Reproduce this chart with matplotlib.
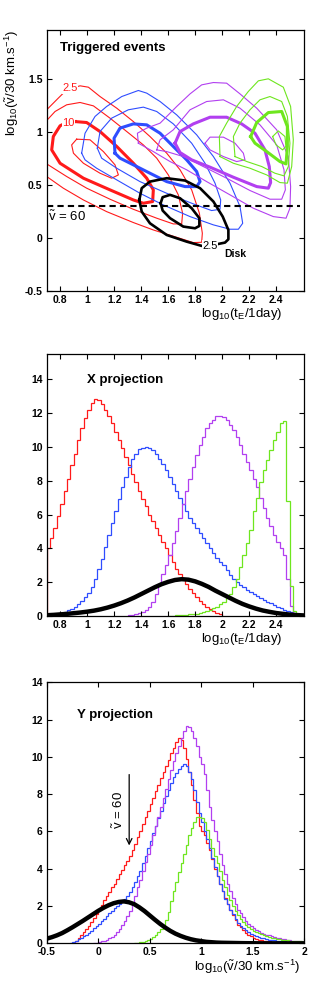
import numpy as np
import matplotlib
matplotlib.use("Agg")
import matplotlib.pyplot as plt

plt.rcParams['font.family'] = ['Liberation Sans', 'DejaVu Sans']
plt.rcParams['mathtext.fontset'] = 'custom'
plt.rcParams['mathtext.rm'] = 'Liberation Sans'
plt.rcParams['mathtext.it'] = 'Liberation Sans:italic'
plt.rcParams['mathtext.bf'] = 'Liberation Sans:bold'

RED = '#ff1a1a'
BLUE = '#2f4dff'
PURPLE = '#b23ff0'
GREEN = '#6ee61e'

red_outer = [(0.700, 1.208), (0.786, 1.318), (0.848, 1.396), (0.947, 1.434), (1.009, 1.421),
             (1.095, 1.333), (1.219, 1.223), (1.342, 1.097), (1.465, 0.956), (1.589, 0.799),
             (1.688, 0.642), (1.774, 0.453), (1.831, 0.233), (1.853, 0.044), (1.848, -0.041),
             (1.786, -0.044), (1.663, 0.006), (1.490, 0.075), (1.342, 0.145), (1.144, 0.248),
             (0.972, 0.358), (0.823, 0.469), (0.700, 0.579)]
red_mid = [(0.700, 1.107), (0.762, 1.192), (0.848, 1.255), (0.947, 1.277), (1.046, 1.245),
           (1.169, 1.129), (1.293, 1.003), (1.416, 0.877), (1.515, 0.752), (1.601, 0.594),
           (1.675, 0.406), (1.707, 0.233), (1.700, 0.132), (1.638, 0.132), (1.515, 0.186),
           (1.342, 0.270), (1.169, 0.365), (0.996, 0.469), (0.848, 0.579), (0.700, 0.698)]
red_thick = [(0.910, 1.097), (0.996, 1.088), (1.095, 1.003), (1.219, 0.862), (1.342, 0.704),
             (1.441, 0.563), (1.490, 0.453), (1.485, 0.343), (1.416, 0.327), (1.342, 0.358),
             (1.169, 0.453), (0.972, 0.563), (0.799, 0.704), (0.737, 0.830), (0.749, 0.956),
             (0.799, 1.057), (0.850, 1.090)]
red_inner = [(0.922, 0.931), (1.021, 0.925), (1.120, 0.814), (1.206, 0.689), (1.231, 0.594),
             (1.181, 0.563), (1.095, 0.610), (0.972, 0.704), (0.898, 0.799), (0.885, 0.877)]

blue_outer = [(0.959, 0.799), (0.984, 0.987), (1.058, 1.145), (1.144, 1.239), (1.256, 1.333),
              (1.379, 1.390), (1.441, 1.365), (1.540, 1.286), (1.663, 1.160), (1.811, 0.972),
              (1.935, 0.767), (2.058, 0.516), (2.132, 0.296), (2.152, 0.138), (2.120, 0.082),
              (2.058, 0.082), (1.935, 0.123), (1.762, 0.201), (1.564, 0.311), (1.391, 0.421),
              (1.219, 0.547), (1.070, 0.657), (0.984, 0.736)]
blue_mid = [(1.075, 0.846), (1.095, 1.003), (1.181, 1.129), (1.305, 1.208), (1.416, 1.233),
            (1.515, 1.192), (1.638, 1.075), (1.774, 0.893), (1.873, 0.704), (1.947, 0.516),
            (1.989, 0.358), (1.984, 0.270), (1.922, 0.258), (1.786, 0.321), (1.589, 0.421),
            (1.391, 0.531), (1.219, 0.657), (1.107, 0.752)]
blue_thick = [(1.206, 0.799), (1.199, 0.940), (1.243, 1.035), (1.342, 1.075), (1.441, 1.066),
              (1.540, 0.987), (1.638, 0.862), (1.737, 0.736), (1.811, 0.626), (1.836, 0.531),
              (1.811, 0.484), (1.725, 0.484), (1.589, 0.531), (1.465, 0.610), (1.342, 0.689),
              (1.243, 0.752)]

purple_outer = [(1.379, 0.893), (1.372, 0.987), (1.441, 1.035), (1.540, 1.082), (1.663, 1.239),
                (1.762, 1.358), (1.848, 1.443), (1.935, 1.465), (2.033, 1.459), (2.132, 1.358),
                (2.256, 1.223), (2.404, 1.019), (2.490, 0.767), (2.507, 0.484), (2.502, 0.280),
                (2.473, 0.186), (2.379, 0.201), (2.231, 0.280), (2.058, 0.406), (1.885, 0.531),
                (1.737, 0.642), (1.614, 0.720), (1.490, 0.814)]
purple_mid = [(1.515, 0.830), (1.540, 0.925), (1.638, 1.019), (1.762, 1.208), (1.885, 1.286),
              (2.009, 1.302), (2.132, 1.223), (2.280, 1.066), (2.404, 0.877), (2.458, 0.642),
              (2.468, 0.453), (2.441, 0.365), (2.354, 0.365), (2.206, 0.447), (2.033, 0.563),
              (1.860, 0.673), (1.712, 0.767), (1.589, 0.814)]
purple_thick = [(1.651, 0.893), (1.688, 1.003), (1.786, 1.075), (1.910, 1.138), (2.033, 1.138),
                (2.144, 1.075), (2.243, 0.987), (2.317, 0.830), (2.349, 0.673), (2.359, 0.522),
                (2.342, 0.469), (2.256, 0.484), (2.083, 0.572), (1.910, 0.667), (1.774, 0.736),
                (1.688, 0.805)]
purple_inner = [(1.873, 0.893), (1.910, 0.950), (2.009, 0.950), (2.095, 0.893), (2.157, 0.799),
                (2.169, 0.736), (2.107, 0.720), (2.009, 0.767), (1.910, 0.830)]

green_outer = [(1.984, 0.767), (1.979, 0.956), (2.033, 1.082), (2.107, 1.239), (2.194, 1.381),
               (2.268, 1.481), (2.342, 1.500), (2.453, 1.421), (2.507, 1.239), (2.527, 0.925),
               (2.515, 0.673), (2.483, 0.516), (2.428, 0.522), (2.330, 0.594), (2.206, 0.657),
               (2.083, 0.704)]
green_mid = [(2.095, 0.767), (2.083, 0.956), (2.132, 1.082), (2.206, 1.208), (2.280, 1.302),
             (2.354, 1.333), (2.441, 1.286), (2.483, 1.145), (2.502, 0.893), (2.490, 0.673),
             (2.458, 0.585), (2.391, 0.610), (2.293, 0.673), (2.183, 0.720)]
green_thick = [(2.211, 0.956), (2.256, 1.088), (2.342, 1.182), (2.441, 1.192), (2.483, 1.050),
               (2.483, 0.862), (2.473, 0.698), (2.428, 0.720), (2.330, 0.814), (2.243, 0.893)]
green_inner = [(2.374, 0.956), (2.416, 1.009), (2.465, 0.956), (2.472, 0.862), (2.448, 0.830),
               (2.399, 0.877)]

disk_outer = [(1.386, 0.358), (1.404, 0.469), (1.465, 0.531), (1.589, 0.563), (1.725, 0.541),
              (1.836, 0.469), (1.935, 0.343), (2.004, 0.201), (2.046, 0.075), (2.046, -0.013),
              (2.021, -0.044), (1.935, -0.066), (1.848, -0.075), (1.737, -0.035), (1.589, 0.028),
              (1.465, 0.138), (1.404, 0.248)]
disk_inner = [(1.544, 0.327), (1.559, 0.384), (1.614, 0.406), (1.688, 0.374), (1.774, 0.280),
              (1.831, 0.186), (1.831, 0.113), (1.799, 0.091), (1.712, 0.107), (1.614, 0.186),
              (1.559, 0.258)]

v_cut = np.log10(60 / 30.)

# ---- X projection (log tE), bins of 0.025 ----
bin_w = 0.025
x_red_start = 0.7
x_red = [4.0, 4.6, 5.2, 5.9, 6.6, 7.4, 8.1, 8.9, 9.6, 10.4, 11.1, 11.7, 12.2, 12.6, 12.8, 12.75,
         12.5, 12.2, 11.8, 11.4, 10.9, 10.4, 9.9, 9.4, 8.9, 8.4, 7.9, 7.4, 6.9, 6.5, 6.0, 5.6, 5.2,
         4.8, 4.4, 4.0, 3.6, 3.2, 2.8, 2.5, 2.2, 1.9, 1.6, 1.35, 1.1, 0.9, 0.7, 0.55, 0.4, 0.3,
         0.2, 0.12]
x_blue_start = 0.7
x_blue = [0.06, 0.08, 0.1, 0.13, 0.17, 0.25, 0.33, 0.42, 0.55, 0.7, 0.9, 1.1, 1.35, 1.7, 2.2, 2.8,
          3.4, 4.1, 4.8, 5.5, 6.2, 6.9, 7.6, 8.2, 8.8, 9.3, 9.6, 9.85, 9.95, 10.0, 9.95, 9.8, 9.6,
          9.3, 9.0, 8.6, 8.2, 7.8, 7.4, 7.0, 6.6, 6.2, 5.8, 5.5, 5.2, 4.9, 4.6, 4.3, 4.0, 3.7,
          3.45, 3.2, 3.0, 2.7, 2.4, 2.2, 2.0, 1.85, 1.7, 1.55, 1.45, 1.3, 1.2, 1.05, 0.95, 0.85,
          0.75, 0.65, 0.55, 0.45, 0.38, 0.3, 0.25, 0.18, 0.13, 0.08]
x_purple_start = 1.3
x_purple = [0.05, 0.08, 0.12, 0.18, 0.25, 0.35, 0.55, 0.85, 1.3, 1.9, 2.5, 3.0, 3.6, 4.3, 5.0,
            5.8, 6.6, 7.4, 8.1, 8.8, 9.5, 10.1, 10.6, 11.1, 11.4, 11.6, 11.8, 11.8, 11.75, 11.6,
            11.3, 11.0, 10.6, 10.1, 9.6, 9.1, 8.6, 8.1, 7.6, 7.0, 6.4, 5.8, 5.3, 4.8, 4.4, 4.0,
            3.6, 2.2, 0.6, 0.1]
x_green_start = 1.6
x_green = [0.02, 0.03, 0.04, 0.05, 0.07, 0.08, 0.1, 0.12, 0.15, 0.18, 0.22, 0.28, 0.35, 0.45,
           0.55, 0.7, 0.85, 1.05, 1.3, 1.7, 2.2, 2.9, 3.6, 4.3, 5.1, 6.2, 7.0, 7.9, 8.6, 9.2, 9.8,
           10.4, 10.9, 11.4, 11.5, 6.8, 1.8, 0.3]
x_disk_t = [0.7, 0.75, 0.8, 0.85, 0.9, 0.95, 1.0, 1.05, 1.1, 1.15, 1.2, 1.25, 1.3, 1.35, 1.4,
            1.45, 1.5, 1.55, 1.6, 1.65, 1.7, 1.75, 1.8, 1.85, 1.9, 1.95, 2.0, 2.05, 2.1, 2.15,
            2.2, 2.25, 2.3, 2.35, 2.4, 2.45, 2.5, 2.55, 2.6]
x_disk = [0.05, 0.07, 0.1, 0.13, 0.17, 0.21, 0.26, 0.32, 0.4, 0.5, 0.62, 0.76, 0.92, 1.1, 1.3,
          1.5, 1.7, 1.88, 2.02, 2.13, 2.18, 2.15, 2.05, 1.9, 1.72, 1.5, 1.3, 1.1, 0.9, 0.72,
          0.57, 0.44, 0.33, 0.25, 0.18, 0.13, 0.09, 0.06, 0.04]

# ---- Y projection (log v), bins of 0.025 ----
y_red_start = -0.225
y_red = [0.1, 0.3, 0.45, 0.6, 0.75, 0.95, 1.15, 1.35, 1.55, 1.8, 2.05, 2.3, 2.55, 2.75, 3.0,
         3.2, 3.45, 3.7, 3.95, 4.2, 4.4, 4.7, 5.0, 5.35, 5.7, 6.0, 6.4, 6.75, 7.1, 7.45, 7.8,
         8.15, 8.5, 8.85, 9.2, 9.5, 9.85, 10.2, 10.5, 10.8, 11.0, 10.9, 10.5, 9.9, 9.2, 8.5,
         7.7, 7.0, 6.3, 6.0, 5.8, 5.4, 5.0, 4.5, 4.0, 3.6, 3.2, 2.8, 2.45, 2.1, 1.8, 1.5, 1.25,
         1.0, 0.85, 0.7, 0.58, 0.47, 0.38, 0.3, 0.25, 0.2, 0.17, 0.14, 0.12, 0.1, 0.09, 0.08,
         0.07, 0.06, 0.05, 0.05, 0.04, 0.04, 0.03, 0.03, 0.03, 0.02, 0.02]
y_blue_start = -0.275
y_blue = [0.03, 0.08, 0.15, 0.22, 0.3, 0.38, 0.47, 0.57, 0.68, 0.8, 0.93, 1.06, 1.2, 1.33, 1.47,
          1.6, 1.73, 1.87, 2.0, 2.12, 2.25, 2.4, 2.55, 2.75, 3.0, 3.3, 3.6, 3.9, 4.3, 4.7, 5.1,
          5.5, 5.9, 6.3, 6.7, 7.1, 7.5, 7.9, 8.25, 8.6, 8.9, 9.15, 9.35, 9.5, 9.6, 9.5, 9.2, 8.8,
          8.2, 7.6, 7.0, 6.5, 6.0, 5.6, 5.1, 4.6, 4.1, 3.6, 3.2, 2.8, 2.4, 2.1, 1.8, 1.55, 1.3,
          1.1, 0.95, 0.8, 0.7, 0.6, 0.52, 0.45, 0.39, 0.34, 0.3, 0.26, 0.23, 0.2, 0.18, 0.16,
          0.14, 0.12, 0.11, 0.1, 0.09, 0.08, 0.07, 0.06, 0.06, 0.05, 0.05]
y_purple_start = -0.05
y_purple = [0.02, 0.04, 0.06, 0.1, 0.14, 0.2, 0.27, 0.36, 0.47, 0.6, 0.78, 1.0, 1.2, 1.45, 1.75,
            2.1, 2.55, 3.0, 3.4, 3.9, 4.35, 4.8, 5.3, 5.8, 6.3, 6.8, 7.3, 7.8, 8.3, 8.8, 9.3,
            9.8, 10.2, 10.6, 11.0, 11.4, 11.65, 11.6, 11.4, 11.0, 10.6, 10.0, 9.6, 9.1, 8.2, 7.3,
            6.6, 6.0, 5.5, 4.8, 4.2, 3.7, 3.2, 2.8, 2.45, 2.1, 1.8, 1.6, 1.4, 1.2, 1.05, 0.92,
            0.82, 0.73, 0.65, 0.58, 0.52, 0.47, 0.42, 0.38, 0.34, 0.3, 0.27, 0.24, 0.21, 0.19,
            0.17, 0.15, 0.13, 0.12, 0.1, 0.09]
y_green_start = 0.35
y_green = [0.02, 0.04, 0.06, 0.09, 0.13, 0.18, 0.25, 0.33, 0.45, 0.6, 0.75, 0.95, 1.25, 1.7,
           2.25, 2.8, 3.3, 3.8, 4.3, 4.8, 5.3, 5.8, 6.2, 6.5, 6.75, 6.8, 6.7, 6.5, 6.1, 5.6, 5.1,
           4.7, 4.3, 3.9, 3.4, 3.0, 2.6, 2.3, 2.0, 1.75, 1.5, 1.3, 1.12, 0.97, 0.85, 0.75, 0.67,
           0.6, 0.54, 0.48, 0.43, 0.39, 0.35, 0.31, 0.28, 0.25, 0.22, 0.2, 0.18, 0.16, 0.15,
           0.13, 0.12, 0.11, 0.1, 0.09]
y_disk_v = [-0.5, -0.45, -0.4, -0.35, -0.3, -0.25, -0.2, -0.15, -0.1, -0.05, 0.0, 0.05, 0.1,
            0.15, 0.2, 0.25, 0.3, 0.35, 0.4, 0.45, 0.5, 0.55, 0.6, 0.65, 0.7, 0.75, 0.8, 0.85,
            0.9, 0.95, 1.0, 1.05, 1.1, 1.15, 1.2, 1.3, 1.4, 1.6, 2.0]
y_disk = [0.25, 0.33, 0.43, 0.55, 0.7, 0.86, 1.03, 1.2, 1.38, 1.56, 1.74, 1.9, 2.04, 2.15, 2.22,
          2.25, 2.2, 2.1, 1.93, 1.73, 1.5, 1.27, 1.05, 0.85, 0.67, 0.52, 0.4, 0.3, 0.22, 0.16,
          0.12, 0.08, 0.06, 0.04, 0.03, 0.02, 0.01, 0.0, 0.0]

tE_ticks = [0.8, 1, 1.2, 1.4, 1.6, 1.8, 2, 2.2, 2.4]
tE_labels = ['0.8', '1', '1.2', '1.4', '1.6', '1.8', '2', '2.2', '2.4']
v_ticks = [-0.5, 0, 0.5, 1, 1.5, 2]
v_labels = ['-0.5', '0', '0.5', '1', '1.5', '2']
h_ticks = [0, 2, 4, 6, 8, 10, 12, 14]
h_labels = ['0', '2', '4', '6', '8', '10', '12', '14']

VLAB = r'log$_{10}$($\tilde{\mathrm{v}}$/30 km.s$^{-1}$)'
TLAB = r'log$_{10}$(t$_\mathrm{E}$/1day)'


def style_axes(ax):
    ax.tick_params(direction='in', top=True, right=True, length=3.5, width=0.8,
                   labelsize=7.5, pad=3)
    for lbl in ax.get_xticklabels() + ax.get_yticklabels():
        lbl.set_fontweight('bold')
    for s in ax.spines.values():
        s.set_linewidth(0.9)


def draw_contour(ax, pts, color, lw, closed=True):
    a = np.array(pts)
    if closed:
        a = np.vstack([a, a[:1]])
    ax.plot(a[:, 0], a[:, 1], color=color, lw=lw, solid_joinstyle='round')


def draw_hist(ax, start, vals, color, lw=0.9):
    edges = start + bin_w * np.arange(len(vals) + 1)
    ax.stairs(vals, edges, color=color, lw=lw, baseline=0)


fig = plt.figure(figsize=(3.27, 9.81), dpi=100)

# ---------------- top: triggered events ----------------
ax1 = fig.add_axes([0.1428, 0.7034, 0.7872, 0.266])
thin, thick = 0.8, 2.2
draw_contour(ax1, red_outer, RED, thin, closed=False)
draw_contour(ax1, red_mid, RED, thin, closed=False)
draw_contour(ax1, red_thick, RED, thick)
draw_contour(ax1, red_inner, RED, thin)
draw_contour(ax1, blue_outer, BLUE, thin)
draw_contour(ax1, blue_mid, BLUE, thin)
draw_contour(ax1, blue_thick, BLUE, thick)
draw_contour(ax1, purple_outer, PURPLE, thin)
draw_contour(ax1, purple_mid, PURPLE, thin)
draw_contour(ax1, purple_thick, PURPLE, thick)
draw_contour(ax1, purple_inner, PURPLE, thin)
draw_contour(ax1, green_outer, GREEN, thin)
draw_contour(ax1, green_mid, GREEN, thin)
draw_contour(ax1, green_thick, GREEN, thick)
draw_contour(ax1, green_inner, GREEN, thin)
draw_contour(ax1, disk_outer, 'black', 1.9)
draw_contour(ax1, disk_inner, 'black', 1.9)
ax1.axhline(v_cut, xmax=0.985, color='black', lw=1.5, dashes=(3, 2))

lab_box = dict(facecolor='white', edgecolor='none', pad=0.3)
ax1.text(0.875, 1.41, '2.5', color=RED, fontsize=8, ha='center', va='center', bbox=lab_box)
ax1.text(0.86, 1.08, '10', color=RED, fontsize=8, ha='center', va='center', bbox=lab_box)
ax1.text(1.91, -0.075, '2.5', color='black', fontsize=8, ha='center', va='center', bbox=lab_box)
ax1.text(2.10, -0.15, 'Disk', fontsize=7.5, fontweight='bold', ha='center', va='center')
ax1.text(0.71, 0.2, r'$\tilde{\mathrm{v}}$ = 60', fontsize=9.5, ha='left', va='center')
ax1.text(0.8, 1.79, 'Triggered events', fontsize=9.5, fontweight='bold', ha='left', va='center')

ax1.set_xlim(0.7, 2.607)
ax1.set_ylim(-0.5, 1.96)
ax1.set_xticks(tE_ticks, tE_labels)
ax1.set_yticks(v_ticks[:-1], v_labels[:-1])
style_axes(ax1)
ax1.text(0.915, -0.088, TLAB, transform=ax1.transAxes, fontsize=9.5, ha='right', va='center')
ax1.text(-0.135, 1.0, VLAB, transform=ax1.transAxes, fontsize=9.5, rotation=90,
         ha='center', va='top')

# ---------------- middle: X projection ----------------
ax2 = fig.add_axes([0.1428, 0.372, 0.7872, 0.2671])
draw_hist(ax2, x_red_start, x_red, RED)
draw_hist(ax2, x_blue_start, x_blue, BLUE)
draw_hist(ax2, x_purple_start, x_purple, PURPLE)
draw_hist(ax2, x_green_start, x_green, GREEN)
ax2.plot(x_disk_t, x_disk, color='black', lw=3.2)
ax2.text(1.0, 13.95, 'X projection', fontsize=9.5, fontweight='bold', ha='left', va='center')
ax2.set_xlim(0.7, 2.607)
ax2.set_ylim(0, 15.48)
ax2.set_xticks(tE_ticks, tE_labels)
ax2.set_yticks(h_ticks, h_labels)
style_axes(ax2)
ax2.text(0.915, -0.088, TLAB, transform=ax2.transAxes, fontsize=9.5, ha='right', va='center')

# ---------------- bottom: Y projection ----------------
ax3 = fig.add_axes([0.1428, 0.0384, 0.7872, 0.2661])
draw_hist(ax3, y_red_start, y_red, RED)
draw_hist(ax3, y_blue_start, y_blue, BLUE)
draw_hist(ax3, y_purple_start, y_purple, PURPLE)
draw_hist(ax3, y_green_start, y_green, GREEN)
ax3.plot(y_disk_v, y_disk, color='black', lw=3.2)
ax3.annotate('', xy=(v_cut, 5.1), xytext=(v_cut, 9.2),
             arrowprops=dict(arrowstyle='->', color='black', lw=0.9))
ax3.text(0.2, 7.15, r'$\tilde{\mathrm{v}}$ = 60', fontsize=9.5, rotation=90,
         ha='center', va='center')
ax3.text(-0.21, 12.25, 'Y projection', fontsize=9.5, fontweight='bold', ha='left', va='center')
ax3.set_xlim(-0.5, 2)
ax3.set_ylim(0, 14)
ax3.set_xticks(v_ticks, v_labels)
ax3.set_yticks(h_ticks, h_labels)
style_axes(ax3)
ax3.text(0.985, -0.089, VLAB, transform=ax3.transAxes, fontsize=9.5, ha='right', va='center')

fig.savefig('out.png', dpi=100)
